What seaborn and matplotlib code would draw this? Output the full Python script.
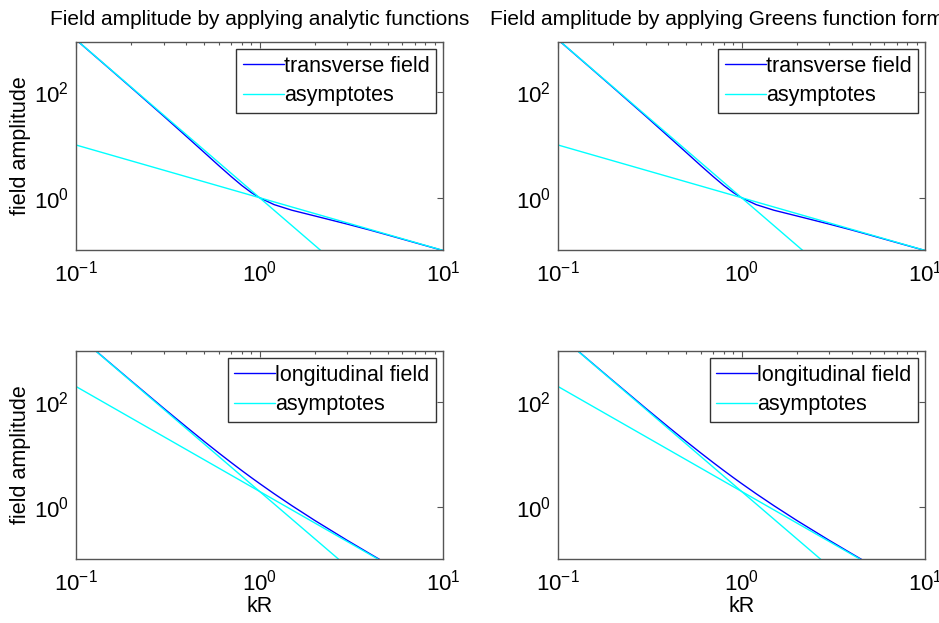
import numpy as np
import pandas as pd
import matplotlib
matplotlib.use("Agg")
import matplotlib.pyplot as plt
import seaborn as sns
from matplotlib.ticker import LogLocator, NullLocator, LogFormatterSciNotation

# ---- data ----
kR_trans = [0.1, 0.15, 0.2, 0.3, 0.4, 0.5, 0.6, 0.7, 0.8, 0.9, 1.0, 1.2, 1.5, 2, 3, 4, 5, 7, 10]
amp_trans = [995, 293, 122.6, 35.5, 14.5, 7.21, 4.06, 2.53, 1.71, 1.26, 1.0, 0.740, 0.579,
             0.451, 0.316, 0.243, 0.196, 0.141, 0.0995]

kR_long = [0.1, 0.15, 0.2, 0.3, 0.4, 0.5, 0.6, 0.7, 0.8, 0.9, 1.0, 1.2, 1.5, 2, 3, 4, 5]
amp_long = [2010, 599, 255, 77.3, 33.7, 17.9, 10.8, 7.12, 5.00, 3.69, 2.83, 1.81, 1.07,
            0.559, 0.234, 0.129, 0.0816]

# asymptote end points (straight lines on log-log axes)
asym_kR = [0.1, 10]
asym_trans_near = [1000, 0.001]   # ~ 1/kR^3
asym_trans_far = [10, 0.1]        # ~ 1/kR
asym_long_near = [2000, 0.002]    # ~ 2/kR^3
asym_long_far = [200, 0.02]       # ~ 2/kR^2

titles = ["Field amplitude by applying analytic functions",
          "Field amplitude by applying Greens function formalism"]
field_labels = ["transverse field", "longitudinal field"]
asym_label = "asymptotes"
xlabel = "kR"
ylabel = "field amplitude"

sns.set_style("white")
plt.rcParams['font.family'] = ['Liberation Sans', 'DejaVu Sans']
plt.rcParams['mathtext.fontset'] = 'custom'
plt.rcParams['mathtext.rm'] = 'Liberation Sans'
plt.rcParams['mathtext.it'] = 'Liberation Sans:italic'
plt.rcParams['axes.unicode_minus'] = False
plt.rcParams['text.color'] = 'black'
plt.rcParams['axes.labelcolor'] = 'black'

W, H = 939, 623
fig = plt.figure(figsize=(W / 100, H / 100), dpi=100)
fig.patch.set_facecolor('white')

lefts = [76, 558]
tops = [42, 351]
aw, ah = 367, 207.5

BLUE = (0, 0, 1)
CYAN = (0, 1, 1)

rows = [
    (kR_trans, amp_trans, asym_trans_near, asym_trans_far, field_labels[0], (0.104, 900)),
    (kR_long, amp_long, asym_long_near, asym_long_far, field_labels[1], (0.105, 950)),
]

for r, (kx, ky, an, af, flab, ylim) in enumerate(rows):
    for c in range(2):
        ax = fig.add_axes([lefts[c] / W, 1 - (tops[r] + ah) / H, aw / W, ah / H])
        df_f = pd.DataFrame({"kR": kx, "amp": ky})
        df_a1 = pd.DataFrame({"kR": asym_kR, "amp": an})
        df_a2 = pd.DataFrame({"kR": asym_kR, "amp": af})
        sns.lineplot(data=df_f, x="kR", y="amp", ax=ax, color=BLUE, lw=1, label=flab,
                     estimator=None, sort=False)
        sns.lineplot(data=df_a1, x="kR", y="amp", ax=ax, color=CYAN, lw=1, label=asym_label,
                     estimator=None, sort=False)
        sns.lineplot(data=df_a2, x="kR", y="amp", ax=ax, color=CYAN, lw=1,
                     estimator=None, sort=False)
        ax.set_xscale('log')
        ax.set_yscale('log')
        ax.set_xlim(0.1, 10)
        ax.set_ylim(*ylim)
        ax.set_xticks([0.1, 1, 10])
        ax.xaxis.set_major_formatter(LogFormatterSciNotation())
        ax.xaxis.set_minor_locator(LogLocator(base=10, subs=np.arange(2, 10)))
        ax.set_yticks([1, 100])
        ax.yaxis.set_major_formatter(LogFormatterSciNotation())
        ax.yaxis.set_minor_locator(NullLocator())
        ax.tick_params(which='both', direction='in', top=True, right=True,
                       color='#555555', labelsize=16, labelcolor='black')
        ax.tick_params(which='major', length=4, width=0.8)
        ax.tick_params(which='minor', length=2.5, width=0.8)
        ax.tick_params(axis='x', which='major', pad=8)
        ax.tick_params(axis='y', which='major', pad=5)
        for s in ax.spines.values():
            s.set_visible(True)
            s.set_color('#555555')
            s.set_linewidth(1)
        ax.set_xlabel(xlabel if r == 1 else "", fontsize=15.5, labelpad=0)
        ax.set_ylabel(ylabel if c == 0 else "", fontsize=15.5, labelpad=2)
        if r == 0:
            ax.set_title(titles[c], fontsize=15, pad=12)
        leg = ax.legend(loc='upper right', fontsize=15.5, frameon=True, fancybox=False,
                        edgecolor='black', handlelength=1.9, handletextpad=0.0,
                        borderpad=0.3, labelspacing=0.4, borderaxespad=0.33)
        leg.get_frame().set_linewidth(1)

fig.savefig("out.png", dpi=100, facecolor='white')
